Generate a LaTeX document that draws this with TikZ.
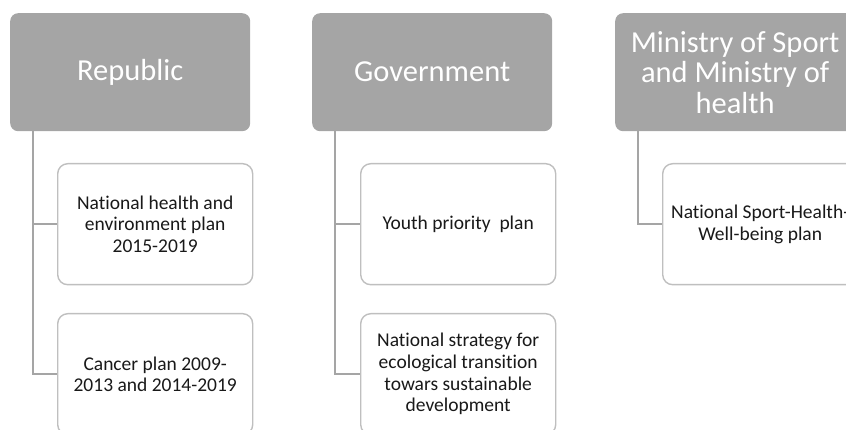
\documentclass[tikz,border=0pt]{standalone}
\usepackage{fontspec}
\setmainfont{Carlito}[RawFeature=-liga]
\definecolor{hdrgray}{HTML}{A5A5A5}
\definecolor{linegray}{HTML}{A5A5A5}
\definecolor{boxgray}{HTML}{BFBFBF}
\tikzset{
  header/.style={draw=none, fill=hdrgray, rounded corners=8pt, minimum width=240pt, minimum height=118pt,
    text=white, align=center, font=\fontsize{30.5}{30.5}\selectfont, inner sep=0pt, anchor=north west},
  childbox/.style={draw=boxgray, line width=1.4pt, fill=white, rounded corners=10pt, minimum width=195pt, minimum height=121pt,
    text=black!90, align=center, font=\fontsize{19.5}{21.7}\selectfont, inner sep=0pt, anchor=north west},
  conn/.style={draw=linegray, line width=1.5pt}
}
\begin{document}
\begin{tikzpicture}[x=1pt,y=-1pt]
\useasboundingbox (0,0) rectangle (846,430);
\clip (0,0) rectangle (846,430);
% headers
\node[header] (h1) at (10,13) {Republic};
\node[header] (h2) at (312,13) {Government};
\node[header] (h3) at (615,13) {Ministry of Sport\\and Ministry of\\health};
% children
\node[childbox] (c11) at (57,163) {National health and\\environment plan\\2015-2019};
\node[childbox] (c12) at (57,313) {Cancer plan 2009-\\2013 and 2014-2019};
\node[childbox] (c21) at (360,163) {Youth priority\ \ plan};
\node[childbox] (c22) at (360,313) {National strategy for\\ecological transition\\towars sustainable\\development};
\node[childbox] (c31) at (662,163) {National Sport-Health-\\Well-being plan};
% connectors
\coordinate (t1) at (33,131);
\coordinate (t2) at (335,131);
\coordinate (t3) at (638,131);
\draw[conn] (t1) |- (c11.west);
\draw[conn] (t1) |- (c12.west);
\draw[conn] (t2) |- (c21.west);
\draw[conn] (t2) |- (c22.west);
\draw[conn] (t3) |- (c31.west);
\end{tikzpicture}
\end{document}
